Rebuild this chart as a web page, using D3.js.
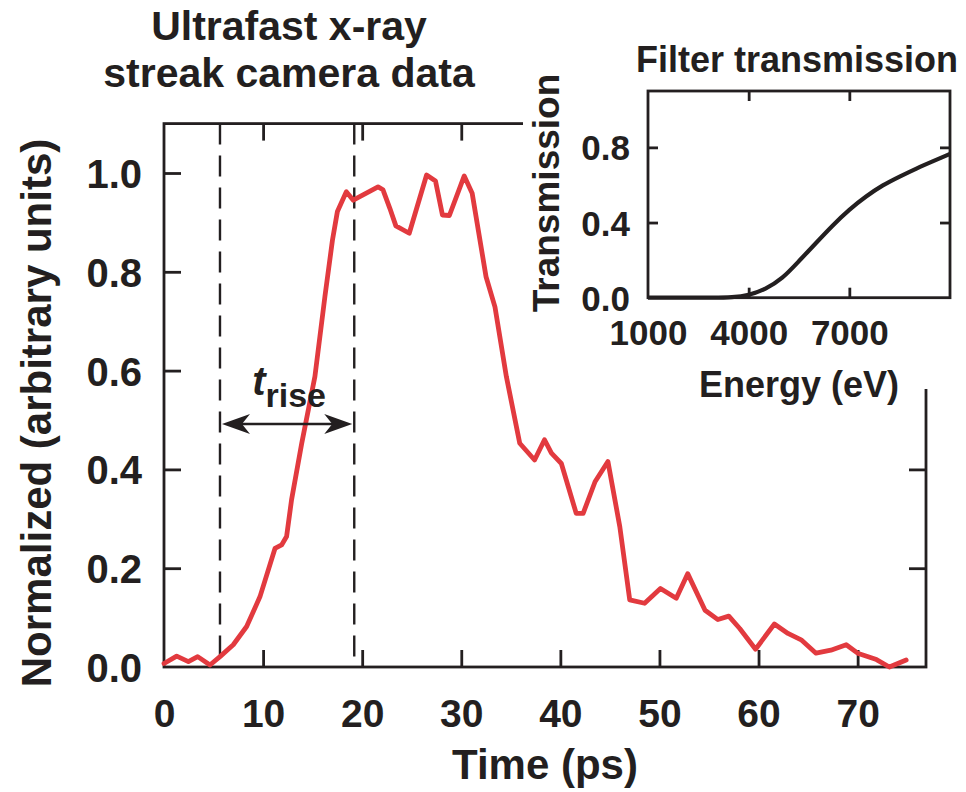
<!DOCTYPE html>
<html>
<head>
<meta charset="utf-8">
<script src="https://cdn.jsdelivr.net/npm/d3@7"></script>
<style>
  html, body { margin: 0; padding: 0; background: #fff; }
  svg { display: block; font-family: "Liberation Sans", Arial, Helvetica, sans-serif; font-weight: bold; }
</style>
</head>
<body>
<svg id="chart" width="966" height="792"></svg>
<script>
// Streak camera signal: time (ps) and normalized intensity
const timePs = [0, 1.28, 2.46, 3.4, 4.64, 5.65, 6.99, 8.34, 9.68, 11.2, 11.87, 12.37, 12.87, 13.9,
  15.23, 16.24, 17.0, 17.5, 18.4, 19.1, 21.6, 22.1, 22.8, 23.4, 24.75, 26.5, 27.4, 28.1, 28.8,
  30.3, 31.1, 32.5, 33.4, 34.55, 35.9, 37.4, 38.4, 39.1, 40.1, 41.6, 42.3, 43.5, 44.8, 46.0,
  47.0, 48.5, 50.1, 51.7, 52.85, 54.6, 55.9, 57.0, 58.1, 59.7, 61.6, 62.97, 64.3, 65.8, 67.3,
  68.85, 70.0, 71.9, 73.2, 74.9];
const signal = [0.007, 0.022, 0.011, 0.021, 0.004, 0.021, 0.045, 0.082, 0.142, 0.24, 0.247, 0.264, 0.338, 0.453,
  0.588, 0.75, 0.864, 0.922, 0.962, 0.945, 0.972, 0.966, 0.928, 0.893, 0.878, 0.996, 0.984, 0.915, 0.914,
  0.994, 0.959, 0.79, 0.729, 0.588, 0.453, 0.419, 0.46, 0.433, 0.412, 0.311, 0.311, 0.375, 0.416, 0.284,
  0.136, 0.129, 0.159, 0.139, 0.189, 0.115, 0.096, 0.103, 0.078, 0.036, 0.087, 0.068, 0.055, 0.028, 0.034,
  0.045, 0.028, 0.015, 0.0, 0.014];

// Rise-time markers (ps) and the level of the double arrow between them
const riseStart = 5.65;
const riseEnd = 19.2;
const arrowLevel = 0.492;

// Main axes ticks
const timeTicks = [0, 10, 20, 30, 40, 50, 60, 70];
const signalTicks = [0.0, 0.2, 0.4, 0.6, 0.8, 1.0];

// Filter transmission curve: photon energy (eV) and transmission
const energyEv = [1000, 2000, 3000, 3500, 4000, 4500, 5000, 5500, 6000, 6500, 7000, 7500, 8000, 8500, 9000, 9500, 10000];
const transmission = [0, 0, 0, 0.002, 0.012, 0.045, 0.1, 0.195, 0.29, 0.385, 0.47, 0.54, 0.6, 0.645, 0.688, 0.727, 0.765];
const energyTicks = [1000, 4000, 7000];
const transTicks = [0.0, 0.4, 0.8];

const INK = "#231f20";
const RED = "#e23a3f";

const svg = d3.select("#chart");

// ---------- main panel ----------
const x = d3.scaleLinear().domain([0, 76.9]).range([164, 926]);
const y = d3.scaleLinear().domain([0, 1.1]).range([667, 123.6]);
const [x0, x1] = x.range();
const [y0, y1] = y.range();
const TICK = 17;

function styleAxis(g) {
  g.select(".domain").remove();
  g.selectAll(".tick line").attr("stroke", INK).attr("stroke-width", 2.8);
}

// bottom axis with labels
svg.append("g").attr("transform", `translate(0,${y0})`)
  .call(d3.axisBottom(x).tickValues(timeTicks).tickSizeInner(-TICK).tickSizeOuter(0).tickFormat(d3.format("d")))
  .call(styleAxis)
  .call(g => g.selectAll(".tick").filter(d => d === 0).select("line").remove())
  .call(g => g.selectAll(".tick text").attr("y", 60).attr("dy", 0)
    .attr("fill", INK).style("font-size", "39px").style("font-family", null).style("font-weight", "bold"));

// left axis with labels
svg.append("g").attr("transform", `translate(${x0},0)`)
  .call(d3.axisLeft(y).tickValues(signalTicks).tickSizeInner(-TICK).tickSizeOuter(0).tickFormat(d3.format(".1f")))
  .call(styleAxis)
  .call(g => g.selectAll(".tick").filter(d => d === 0).select("line").remove())
  .call(g => g.selectAll(".tick text").attr("x", -22).attr("dy", "0.36em")
    .attr("fill", INK).style("font-size", "40px").style("font-family", null).style("font-weight", "bold"));

// top and right ticks (no labels)
svg.append("g").attr("transform", `translate(0,${y1})`)
  .call(d3.axisTop(x).tickValues(timeTicks.filter(d => d > 0)).tickSizeInner(-TICK).tickSizeOuter(0).tickFormat(""))
  .call(styleAxis);
svg.append("g").attr("transform", `translate(${x1},0)`)
  .call(d3.axisRight(y).tickValues(signalTicks.filter(d => d > 0)).tickSizeInner(-TICK).tickSizeOuter(0).tickFormat(""))
  .call(styleAxis);

// frame
svg.append("rect")
  .attr("x", x0).attr("y", y1).attr("width", x1 - x0).attr("height", y0 - y1)
  .attr("fill", "none").attr("stroke", INK).attr("stroke-width", 2.8);

// rise-time dashed markers
svg.selectAll(".rise-line").data([riseStart, riseEnd]).join("line")
  .attr("class", "rise-line")
  .attr("x1", d => x(d)).attr("x2", d => x(d))
  .attr("y1", y1).attr("y2", y0)
  .attr("stroke", INK).attr("stroke-width", 2.4)
  .attr("stroke-dasharray", "21 11");

// signal trace
const signalData = timePs.map((t, i) => ({ t, v: signal[i] }));
svg.append("path")
  .datum(signalData)
  .attr("fill", "none")
  .attr("stroke", RED)
  .attr("stroke-width", 4.8)
  .attr("stroke-linejoin", "round")
  .attr("stroke-linecap", "round")
  .attr("d", d3.line().x(d => x(d.t)).y(d => y(d.v)));

// double-headed arrow spanning the rise time
const ay = y(arrowLevel);
const ax0 = x(riseStart) + 2;
const ax1 = x(riseEnd) - 2;
const headLen = 28, headHalf = 10, headBack = 20;
svg.append("line")
  .attr("x1", ax0 + 10).attr("x2", ax1 - 10).attr("y1", ay).attr("y2", ay)
  .attr("stroke", INK).attr("stroke-width", 2.6);
svg.append("path")
  .attr("fill", INK)
  .attr("d", `M${ax0},${ay} L${ax0 + headLen},${ay - headHalf} L${ax0 + headBack},${ay} L${ax0 + headLen},${ay + headHalf} Z`);
svg.append("path")
  .attr("fill", INK)
  .attr("d", `M${ax1},${ay} L${ax1 - headLen},${ay - headHalf} L${ax1 - headBack},${ay} L${ax1 - headLen},${ay + headHalf} Z`);

// t_rise label
const rl = svg.append("text")
  .attr("x", (x(riseStart) + x(riseEnd)) / 2 + 2)
  .attr("y", ay - 29)
  .attr("text-anchor", "middle")
  .attr("fill", INK);
rl.append("tspan").attr("font-style", "italic").style("font-size", "40px").text("t");
rl.append("tspan").attr("dy", 12).style("font-size", "34px").text("rise");

// axis titles
svg.append("text")
  .attr("x", (x0 + x1) / 2).attr("y", 779)
  .attr("text-anchor", "middle").attr("fill", INK)
  .style("font-size", "42px")
  .text("Time (ps)");
svg.append("text")
  .attr("transform", `translate(51,${413}) rotate(-90)`)
  .attr("text-anchor", "middle").attr("fill", INK)
  .style("font-size", "42px")
  .text("Normalized (arbitrary units)");

// panel title
const title = svg.append("text").attr("text-anchor", "middle").attr("fill", INK).style("font-size", "41px");
title.append("tspan").attr("x", 289).attr("y", 40).text("Ultrafast x-ray");
title.append("tspan").attr("x", 289).attr("y", 87).text("streak camera data");

// ---------- inset: filter transmission ----------
// white backing that sits over the main frame's top-right corner
svg.append("rect")
  .attr("x", 523).attr("y", 0).attr("width", 966 - 523).attr("height", 389)
  .attr("fill", "#fff");

const xi = d3.scaleLinear().domain([1000, 10000]).range([648, 950]);
const yi = d3.scaleLinear().domain([0, 1.1]).range([297.7, 91]);
const [xi0, xi1] = xi.range();
const [yi0, yi1] = yi.range();
const TI = 10;

svg.append("g").attr("transform", `translate(0,${yi0})`)
  .call(d3.axisBottom(xi).tickValues(energyTicks).tickSizeInner(-TI).tickSizeOuter(0).tickFormat(d3.format("d")))
  .call(styleAxis)
  .call(g => g.selectAll(".tick").filter(d => d === 1000).select("line").remove())
  .call(g => g.selectAll(".tick text").attr("y", 47).attr("dy", 0)
    .attr("fill", INK).style("font-size", "35px").style("font-family", null).style("font-weight", "bold"));
svg.append("g").attr("transform", `translate(${xi0},0)`)
  .call(d3.axisLeft(yi).tickValues(transTicks).tickSizeInner(-TI).tickSizeOuter(0).tickFormat(d3.format(".1f")))
  .call(styleAxis)
  .call(g => g.selectAll(".tick").filter(d => d === 0).select("line").remove())
  .call(g => g.selectAll(".tick text").attr("x", -18).attr("dy", "0.36em")
    .attr("fill", INK).style("font-size", "35px").style("font-family", null).style("font-weight", "bold"));
svg.append("g").attr("transform", `translate(0,${yi1})`)
  .call(d3.axisTop(xi).tickValues(energyTicks.filter(d => d > 1000)).tickSizeInner(-TI).tickSizeOuter(0).tickFormat(""))
  .call(styleAxis);
svg.append("g").attr("transform", `translate(${xi1},0)`)
  .call(d3.axisRight(yi).tickValues(transTicks.filter(d => d > 0)).tickSizeInner(-TI).tickSizeOuter(0).tickFormat(""))
  .call(styleAxis);

svg.append("rect")
  .attr("x", xi0).attr("y", yi1).attr("width", xi1 - xi0).attr("height", yi0 - yi1)
  .attr("fill", "none").attr("stroke", INK).attr("stroke-width", 2.8);

const transData = energyEv.map((e, i) => ({ e, t: transmission[i] }));
svg.append("path")
  .datum(transData)
  .attr("fill", "none")
  .attr("stroke", INK)
  .attr("stroke-width", 4.2)
  .attr("stroke-linecap", "butt")
  .attr("d", d3.line().curve(d3.curveBasis).x(d => xi(d.e)).y(d => yi(d.t)));

svg.append("text")
  .attr("x", 797).attr("y", 72)
  .attr("text-anchor", "middle").attr("fill", INK)
  .style("font-size", "36px")
  .text("Filter transmission");
svg.append("text")
  .attr("x", (xi0 + xi1) / 2).attr("y", 397)
  .attr("text-anchor", "middle").attr("fill", INK)
  .style("font-size", "36px")
  .text("Energy (eV)");
svg.append("text")
  .attr("transform", `translate(559,${193}) rotate(-90)`)
  .attr("text-anchor", "middle").attr("fill", INK)
  .style("font-size", "37px")
  .text("Transmission");
</script>
</body>
</html>
